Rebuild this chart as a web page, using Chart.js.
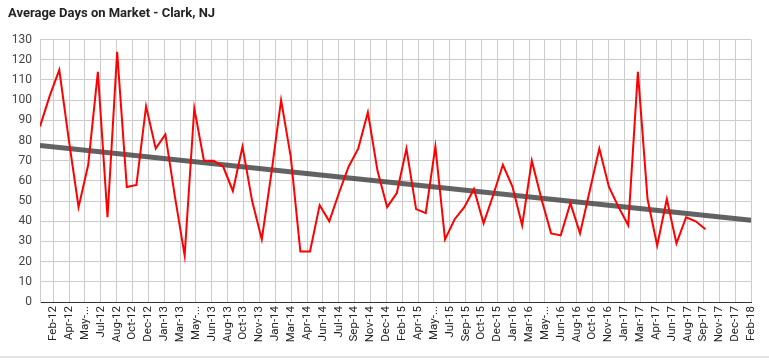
<!DOCTYPE html>
<html>
<head>
<meta charset="utf-8">
<script src="https://cdn.jsdelivr.net/npm/chart.js@4"></script>
<style>
  html, body { margin: 0; padding: 0; background: #fff; }
  #wrap { position: relative; width: 769px; height: 362px; }
  #wrap::after {
    content: '';
    position: absolute;
    left: 0; right: 0; top: 356px;
    height: 2px;
    background: #e4e4e4;
  }
</style>
</head>
<body>
<div id="wrap"><canvas id="domChart"></canvas></div>
<script>
// date ticks on the x axis (about every 50 days)
const tickLabels = [
  'Feb-12', 'Apr-12', 'May-...', 'Jul-12', 'Aug-12', 'Oct-12', 'Dec-12', 'Jan-13', 'Mar-13', 'May-...',
  'Jun-13', 'Aug-13', 'Oct-13', 'Nov-13', 'Jan-14', 'Mar-14', 'Apr-14', 'Jun-14', 'Jul-14', 'Sep-14',
  'Nov-14', 'Dec-14', 'Feb-15', 'Apr-15', 'May-...', 'Jul-15', 'Sep-15', 'Oct-15', 'Dec-15', 'Jan-16',
  'Mar-16', 'May-...', 'Jun-16', 'Aug-16', 'Oct-16', 'Nov-16', 'Jan-17', 'Mar-17', 'Apr-17', 'Jun-17',
  'Aug-17', 'Sep-17', 'Nov-17', 'Dec-17', 'Feb-18'
];

// average days on market, one value per month starting Jan-12
const avgDays = [
  87, 102, 115, 80, 47, 68, 114, 42, 124, 57,
  58, 97, 76, 83, 52, 23, 96, 70, 70, 67,
  55, 77, 50, 31, 64, 100, 72, 25, 25, 48,
  40, 54, 67, 76, 94, 65, 47, 54, 76, 46,
  44, 77, 31, 41, 47, 56, 39, 53, 68, 57,
  38, 70, 51, 34, 33, 49, 34, 55, 76, 57,
  47, 38, 114, 51, 28, 51, 29, 42, 40, 36
];

// linear trendline values at the left and right edge of the plot
const trendEnds = [77.5, 40.5];

const yTicks = [0, 10, 20, 30, 40, 50, 60, 70, 80, 90, 100, 110, 120, 130];

// tick placement in months from the first data point
const firstTick = 1.37;
const tickStep = 1.645;
const xMax = firstTick + (tickLabels.length - 1) * tickStep;

const ctx = document.getElementById('domChart').getContext('2d');

new Chart(ctx, {
  type: 'line',
  data: {
    datasets: [{
      label: 'Average Days on Market',
      data: avgDays.map((v, i) => ({ x: i, y: v })),
      borderColor: '#ff0000',
      borderWidth: 2,
      pointRadius: 0,
      tension: 0,
      order: 1
    }, {
      label: 'Trend',
      data: [{ x: 0, y: trendEnds[0] }, { x: xMax, y: trendEnds[1] }],
      borderColor: 'rgba(60, 60, 60, 0.8)',
      borderWidth: 5,
      pointRadius: 0,
      order: 2
    }]
  },
  options: {
    responsive: true,
    maintainAspectRatio: false,
    animation: false,
    layout: {
      padding: { left: 8, right: 13, top: 0, bottom: 0 }
    },
    plugins: {
      legend: { display: false },
      tooltip: { enabled: false },
      title: {
        display: true,
        text: 'Average Days on Market - Clark, NJ',
        align: 'start',
        color: '#222',
        font: { family: 'Roboto', size: 13, weight: 'bold' },
        padding: { top: 6, bottom: 18 }
      }
    },
    scales: {
      x: {
        type: 'linear',
        min: 0,
        max: xMax,
        afterBuildTicks: function (scale) {
          scale.ticks = tickLabels.map((t, i) => ({ value: firstTick + i * tickStep }));
        },
        afterFit: function (scale) {
          scale.height = 60;
        },
        ticks: {
          autoSkip: false,
          minRotation: 90,
          maxRotation: 90,
          padding: 4,
          color: '#222',
          font: { family: 'Roboto', size: 11.5 },
          callback: function (value, index) {
            return tickLabels[index];
          }
        },
        grid: { color: '#ccc', drawTicks: false },
        border: { color: '#333' }
      },
      y: {
        min: 0,
        max: 130,
        afterBuildTicks: function (scale) {
          scale.ticks = yTicks.map(v => ({ value: v }));
        },
        afterFit: function (scale) {
          scale.width = 32;
        },
        ticks: {
          padding: 8,
          color: '#444',
          font: { family: 'Roboto', size: 12 }
        },
        grid: { color: '#ccc', drawTicks: false },
        border: { color: '#ccc' }
      }
    }
  }
});
</script>
</body>
</html>
